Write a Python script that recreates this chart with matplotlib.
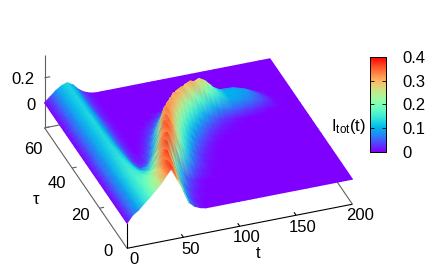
import numpy as np
import matplotlib
matplotlib.use('Agg')
import matplotlib.pyplot as plt
from matplotlib.cm import ScalarMappable
from matplotlib.colors import Normalize
from matplotlib.tri import Triangulation
from mpl_toolkits.mplot3d import proj3d

plt.rcParams['font.family'] = ['Liberation Sans', 'DejaVu Sans']
plt.rcParams['mathtext.default'] = 'regular'

t_vals = [0,5,10,15,20,25,30,35,40,45,50,55,60,65,70,75,80,85,90,95,100,105,110,115,120,125,130,140,150,160,170,180,190,200]
tau_vals = [0,4,8,12,16,20,22.5,25,27.5,30,32,34,36,38,40,42,44,46,48,50,55,60]
# Values; each row lists I_tot along t, trailing values are zero
I_rows = [
 [0,.056,.086,.13,.17,.215,.26,.32,.375,.265,.176,.07,.03,.01],
 [0,.05,.09,.13,.165,.205,.245,.3,.365,.34,.21,.1,.045,.015,.005],
 [0,.05,.09,.13,.16,.18,.2,.245,.32,.375,.28,.15,.075,.035,.015,.005],
 [0,.05,.09,.125,.155,.155,.15,.16,.22,.32,.375,.26,.15,.08,.04,.02,.005],
 [0,.05,.09,.125,.15,.14,.11,.09,.13,.22,.33,.37,.31,.21,.13,.075,.04,.02,.01],
 [0,.05,.09,.12,.145,.125,.085,.05,.04,.08,.18,.31,.365,.32,.23,.15,.09,.05,.025,.01,.005],
 [0,.05,.085,.12,.14,.12,.08,.04,.025,.04,.1,.21,.35,.35,.27,.19,.125,.075,.04,.02,.01,.004],
 [0,.05,.085,.115,.135,.115,.07,.03,.012,.015,.05,.12,.26,.35,.31,.23,.16,.11,.07,.04,.02,.01],
 [0,.05,.085,.115,.135,.11,.07,.03,.01,.01,.025,.065,.16,.31,.34,.28,.21,.15,.10,.065,.04,.02,.01],
 [0,.045,.085,.115,.13,.105,.065,.03,.01,0,.01,.035,.09,.2,.33,.32,.26,.2,.145,.10,.07,.045,.025,.012,.005],
 [0,.045,.08,.11,.13,.105,.06,.03,.01,0,.005,.02,.05,.11,.22,.325,.31,.25,.19,.14,.1,.07,.045,.028,.015,.008,.004],
 [0,.045,.08,.11,.13,.105,.06,.03,.01,0,0,.01,.03,.06,.13,.23,.32,.3,.245,.19,.145,.105,.075,.05,.033,.02,.012,.003],
 [0,.045,.08,.11,.13,.1,.06,.03,.01,0,0,.005,.015,.035,.07,.14,.23,.315,.305,.25,.2,.155,.115,.085,.06,.04,.027,.01],
 [0,.045,.08,.11,.13,.1,.06,.03,.01,0,0,0,.01,.02,.04,.08,.14,.21,.29,.315,.28,.235,.19,.15,.115,.09,.07,.05,.035,.02,.005],
 [0,.045,.08,.11,.13,.1,.06,.03,.01,0,0,0,0,.01,.02,.04,.07,.11,.165,.23,.29,.31,.29,.25,.2,.16,.13,.09,.08,.06,.03,.005],
 [0,.045,.08,.11,.13,.1,.06,.03,.01,0,0,0,0,0,.01,.02,.035,.055,.085,.125,.17,.22,.26,.28,.255,.21,.16,.1,.09,.075,.04,.005],
 [0,.045,.08,.11,.13,.1,.06,.03,.01,0,0,0,0,0,0,0,.02,.03,.045,.06,.085,.115,.15,.18,.2,.19,.15,.1,.095,.08,.035],
 [0,.04,.08,.11,.125,.1,.06,.025,.008,0,0,0,0,0,0,0,0,0,.02,.03,.04,.05,.06,.07,.08,.09,.09,.085,.08,.055,.015],
 [0,.04,.08,.11,.125,.1,.06,.025,.008,0,0,0,0,0,0,0,0,0,0,0,0,.005,.01,.015,.02,.025,.025,.025,.02,.01],
 [0,.04,.08,.11,.125,.1,.055,.025,.008],
 [0,.04,.08,.11,.125,.1,.055,.025,.008],
 [0,.04,.08,.11,.125,.1,.055,.025,.008],
]
t_ticks = [0,50,100,150,200]
tau_ticks = [0,20,40,60]
z_ticks = [0,0.2]
cbar_ticks = [0,0.1,0.2,0.3,0.4]
cbar_labels = ['0','0.1','0.2','0.3','0.4']

W, H = 436, 271
fig = plt.figure(figsize=(W/100, H/100), dpi=100)
S = 340.0
cx, cy = 198.5, 141.5
ax = fig.add_axes([(cx-0.5135*S)/W, (cy-0.5135*S)/H, S/W, S/H], projection='3d',
                  proj_type='ortho', computed_zorder=False)
ax.view_init(elev=32.3, azim=-110.1)
ax.set_box_aspect((240,240,86.5), zoom=1)
ax.set_xlim(0,200,view_margin=0); ax.set_ylim(0,60,view_margin=0); ax.set_zlim(-0.2,0.384,view_margin=0)
ax.set_axis_off()
ax.patch.set_visible(False)
zb = -0.2
gr = '#606060'
def ln(x,y,z,c='k',lw=0.8):
    ax.plot(x,y,z,color=c,lw=lw,solid_capstyle='butt')
ln([0,0],[60,60],[zb,0.384],gr)
ln([0,200],[60,60],[zb,zb],gr)
ln([200,200],[0,60],[zb,zb],gr)
ln([0,0],[0,60],[zb,zb],gr)
for v in tau_ticks[1:]:
    ln([0,4],[v,v],[zb,zb],gr)
for v in z_ticks:
    ln([0,5],[60,60],[v,v],gr)
ln([0,200],[0,0],[zb,zb],'k')
ln([0,0],[0,0],[zb,0],'k')
for v in t_ticks[1:-1]:
    ln([v,v],[0,1.5],[zb,zb],'k')

# Surface: project the grid with the 3D axes, then paint back to front with Gouraud colour
nt, ntau = len(t_vals), len(tau_vals)
Z = np.zeros((ntau, nt))
for i, row in enumerate(I_rows):
    Z[i, :len(row)] = row
T, Tau = np.meshgrid(t_vals, tau_vals)
fig.canvas.draw()
xs, ys, _ = proj3d.proj_transform(T.ravel(), Tau.ravel(), Z.ravel(), ax.get_proj())
px = ax.transData.transform(np.column_stack([xs, ys]))
tris = []
for i in range(ntau-2, -1, -1):
    for j in range(nt-2, -1, -1):
        a, b, c, d = i*nt+j, i*nt+j+1, (i+1)*nt+j, (i+1)*nt+j+1
        tris.append([c, d, b])
        tris.append([c, b, a])
over = fig.add_axes([0, 0, 1, 1], zorder=2)
over.set_xlim(0, W); over.set_ylim(0, H)
over.set_axis_off(); over.patch.set_visible(False)
over.tripcolor(Triangulation(px[:,0], px[:,1], np.array(tris)), Z.ravel(),
               shading='gouraud', cmap='rainbow', vmin=0, vmax=0.4)

fs = 12
def lab(x, y, s):
    fig.text(x/W, 1-y/H, s, fontsize=fs, ha='center', va='center', zorder=5)
for v, p in zip(t_ticks, [(134,259),(191,249),(247,238),(303,227),(360,216)]):
    lab(p[0], p[1], str(v))
for v, p in zip(tau_ticks, [(108,252),(80,216),(57,183),(33,149)]):
    lab(p[0], p[1], str(v))
lab(31, 105, '0')
lab(23, 79, '0.2')
lab(258, 254, 't')
lab(36, 199, 'τ')

cax = fig.add_axes([369.5/W,1-151.5/H,16/W,94.5/H], zorder=3)
cb = fig.colorbar(ScalarMappable(Normalize(0,0.4),'rainbow'),cax=cax,ticks=cbar_ticks)
cb.ax.set_yticklabels(cbar_labels,fontsize=fs)
cb.ax.tick_params(direction='in',length=3,width=0.6,pad=12,left=True,right=True)
cb.outline.set_linewidth(0.7)
fig.text(348/W,1-127/H,r'$I_{tot}(t)$',fontsize=fs,ha='center',va='center')
fig.savefig('out.png',dpi=100)
